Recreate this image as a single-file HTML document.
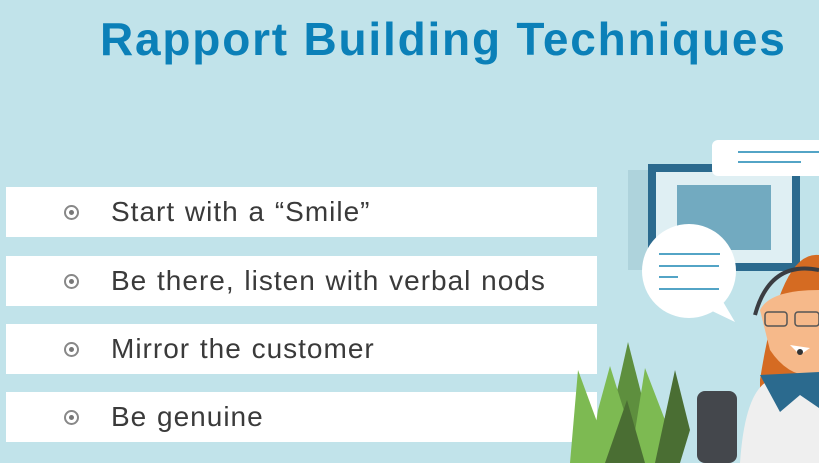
<!DOCTYPE html>
<html><head><style>
body{margin:0;width:819px;height:463px;overflow:hidden;background:#c1e3ea;font-family:"Liberation Sans",sans-serif;position:relative}
h1{position:absolute;left:100px;top:12px;margin:0;font-size:46px;font-weight:bold;color:#0b80b8;letter-spacing:1.8px;white-space:nowrap}
.bar{position:absolute;left:6px;width:591px;height:50px;background:#fff}
.bar span{position:absolute;left:105px;top:9px;font-size:28px;color:#3a3a3a;letter-spacing:1px;word-spacing:1px;white-space:nowrap}
.bar i{position:absolute;left:58px;top:18px;width:15px;height:15px;border:2px solid #888;border-radius:50%;box-sizing:border-box}
.bar i:after{content:"";position:absolute;left:3px;top:3px;width:5px;height:5px;border-radius:50%;background:#777}
svg{position:absolute;left:0;top:0}
</style></head><body>
<h1>Rapport Building Techniques</h1>
<div class="bar" style="top:187px"><i></i><span>Start with a “Smile”</span></div>
<div class="bar" style="top:256px"><i></i><span>Be there, listen with verbal nods</span></div>
<div class="bar" style="top:324px"><i></i><span>Mirror the customer</span></div>
<div class="bar" style="top:392px"><i></i><span>Be genuine</span></div>
<svg width="819" height="463">
<rect x="628" y="170" width="20" height="100" fill="#aed3dc"/>
<rect x="648" y="164" width="152" height="107" fill="#2b6a8e"/>
<rect x="656" y="172" width="136" height="91" fill="#dfeff3"/>
<rect x="677" y="185" width="94" height="65" fill="#72aac0"/>
<rect x="712" y="140" width="120" height="36" rx="6" fill="#fff"/>
<line x1="738" y1="152" x2="819" y2="152" stroke="#1a86b3" stroke-width="1.5"/>
<line x1="738" y1="162" x2="801" y2="162" stroke="#1a86b3" stroke-width="1.5"/>
<circle cx="689" cy="271" r="47" fill="#fff"/>
<path d="M710 310 L735 322 L722 300 Z" fill="#fff"/>
<g stroke="#1a86b3" stroke-width="1.5"><line x1="659" y1="254" x2="720" y2="254"/><line x1="659" y1="266" x2="719" y2="266"/><line x1="659" y1="277" x2="678" y2="277"/><line x1="659" y1="289" x2="719" y2="289"/></g>
<rect x="697" y="391" width="40" height="72" rx="8" fill="#44474c"/>
<path d="M760 380 Q780 250 819 255 L819 400 L760 400 Z" fill="#d56b22"/>
<path d="M760 310 Q770 290 819 290 L819 375 Q790 380 770 350 Z" fill="#f6b98a"/>
<path d="M755 315 Q770 260 819 270" fill="none" stroke="#3a3d42" stroke-width="4"/>
<rect x="765" y="312" width="22" height="14" rx="3" fill="none" stroke="#555" stroke-width="1.5"/>
<rect x="795" y="312" width="24" height="14" rx="3" fill="none" stroke="#555" stroke-width="1.5"/>
<path d="M790 345 L810 348 L800 355 Z" fill="#fff"/>
<circle cx="800" cy="352" r="3" fill="#333"/>
<path d="M740 463 Q745 390 770 380 L819 372 L819 463 Z" fill="#efefef"/>
<path d="M760 375 L780 412 L800 395 L819 408 L819 372 Z" fill="#2b6a8e"/>
<g fill="#5e8f3e"><path d="M628 342 L648 420 L640 463 L612 463 L615 400 Z"/></g>
<g fill="#7dba52"><path d="M610 366 L630 430 L625 463 L590 463 L598 410 Z"/><path d="M645 368 L665 420 L660 463 L630 463 Z"/><path d="M578 370 L600 430 L600 463 L570 463 Z"/></g>
<g fill="#4a6e33"><path d="M675 370 L690 430 L680 463 L655 463 Z"/><path d="M627 400 L645 463 L605 463 Z"/></g>
</svg>
</body></html>
